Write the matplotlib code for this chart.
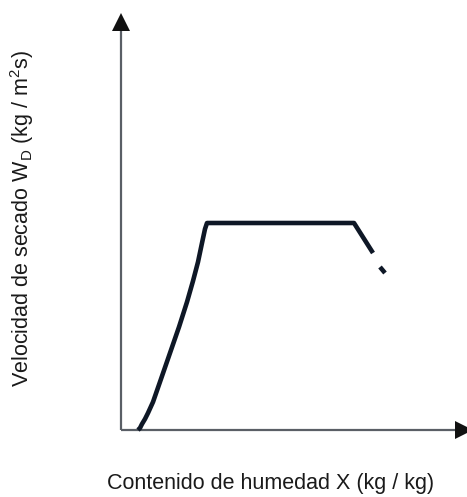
import matplotlib
matplotlib.use("Agg")
import matplotlib.pyplot as plt

# Curve data (abstract units: x = moisture content, y = drying rate)
curve_x = [17, 19, 21, 24, 27, 32, 40, 49, 58, 66, 72, 77, 81, 84, 86, 233, 252]
curve_y = [0, 2, 6, 11, 17, 28, 51, 77, 103, 128, 149, 168, 187, 201, 207, 207, 177]
tail_x = [259, 264]
tail_y = [163, 157]

xlabel = "Contenido de humedad X (kg / kg)"
ylabel = "Velocidad de secado W$_\\mathregular{D}$ (kg / m$^\\mathregular{2}$s)"

plt.rcParams['font.family'] = ['Liberation Sans', 'DejaVu Sans']

W, H = 467, 497
fig = plt.figure(figsize=(W / 100, H / 100), dpi=100)
x0, y0, x1, y1 = 121, 430, 467, 8
ax = fig.add_axes([x0 / W, (H - y0) / H, (x1 - x0) / W, (y0 - y1) / H])
ax.set_xlim(0, x1 - x0)
ax.set_ylim(0, y0 - y1)
ax.axis('off')

axis_col = '#5a5f66'
ax.plot([0, 0], [0, 410], color=axis_col, lw=1.6, clip_on=False, solid_capstyle='butt')
ax.plot([0, 339], [0, 0], color=axis_col, lw=1.6, clip_on=False, solid_capstyle='butt')
ax.plot([0], [408], marker='^', markersize=13, color='#111', clip_on=False, markeredgewidth=0)
ax.plot([343], [0], marker='>', markersize=13, color='#111', clip_on=False, markeredgewidth=0)

line_col = '#0e1726'
ax.plot(curve_x, curve_y, color=line_col, lw=3.3, solid_joinstyle='round', solid_capstyle='butt', clip_on=False)
ax.plot(tail_x, tail_y, color=line_col, lw=3.3, solid_capstyle='butt', clip_on=False)

fig.text(271 / W, 1 - 483 / H, xlabel, ha='center', va='center', fontsize=15.5, color='#1a1a1a')
fig.text(22 / W, 1 - 219 / H, ylabel, ha='center', va='center', rotation=90, fontsize=15.5, color='#1a1a1a')

fig.savefig('out.png', dpi=100, facecolor='white')
